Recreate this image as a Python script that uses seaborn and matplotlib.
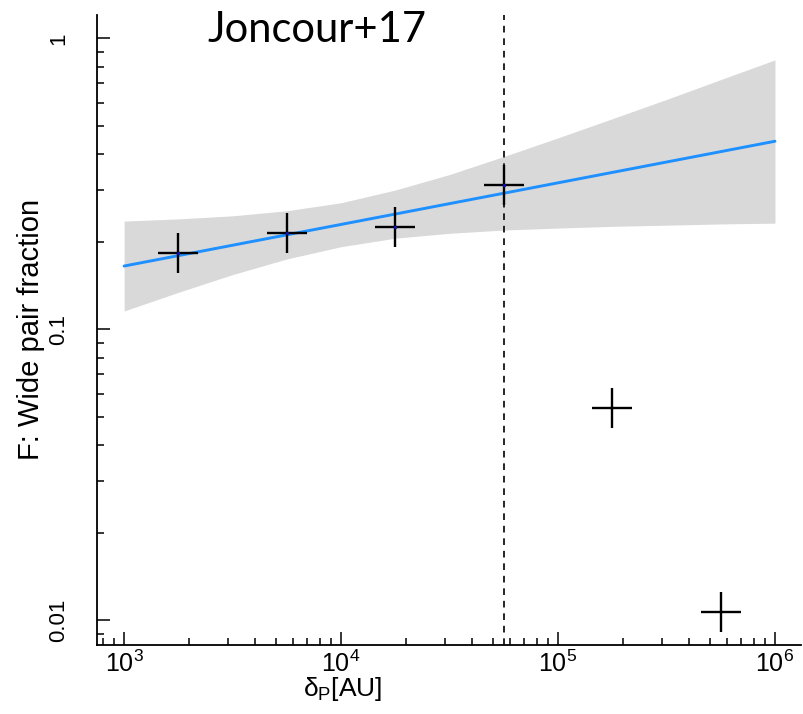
import numpy as np
import pandas as pd
import seaborn as sns
import matplotlib
matplotlib.use("Agg")
import matplotlib.pyplot as plt
from matplotlib.ticker import LogLocator, NullFormatter

# ---- data ----
sep_au = [1778, 5623, 17783, 56234, 177828, 562341]
wide_frac = [0.183, 0.214, 0.225, 0.313, 0.0537, 0.0107]
fit_points = 4  # first four bins used in the fit

fit_x = [1e3, 1e6]
fit_y = [0.165, 0.443]

band_x = [1000, 1778, 3162, 5623, 10000, 17783, 31623, 56234, 100000,
          177828, 316228, 562341, 1000000]
band_hi = [0.2355, 0.2396, 0.2455, 0.2555, 0.2723, 0.3011, 0.3404, 0.3925,
           0.4550, 0.5293, 0.6166, 0.7216, 0.8433]
band_lo = [0.1156, 0.1340, 0.1542, 0.1745, 0.1923, 0.2057, 0.2138, 0.2194,
           0.2228, 0.2259, 0.2280, 0.2302, 0.2317]

vline_x = 56234
xticks = [1e3, 1e4, 1e5, 1e6]
yticks = [0.01, 0.1, 1]
ytick_labels = ["0.01", "0.1", "1"]
title_text = "Joncour+17"
xlabel_text = "δ$_{\\mathrm{P}}$[AU]"
ylabel_text = "F: Wide pair fraction"

# ---- style ----
sns.set_theme(style="ticks")
plt.rcParams["font.family"] = ["Liberation Sans", "DejaVu Sans"]
plt.rcParams["mathtext.fontset"] = "custom"
plt.rcParams["mathtext.rm"] = "Liberation Sans"
plt.rcParams["mathtext.it"] = "Liberation Sans:italic"
plt.rcParams["mathtext.bf"] = "Liberation Sans:bold"

fig = plt.figure(figsize=(8.04, 7.14), dpi=100)
ax = fig.add_axes([97 / 804, 1 - 645 / 714, 704 / 804, 630.5 / 714])

df = pd.DataFrame({"sep": sep_au, "frac": wide_frac})
fit_df = pd.DataFrame({"x": fit_x, "y": fit_y})

ax.fill_between(band_x, band_lo, band_hi, color="#D9D9D9", lw=0, zorder=1)
sns.lineplot(data=fit_df, x="x", y="y", ax=ax, color="#1E90FF", lw=2.1, zorder=2)
ax.axvline(vline_x, color="black", lw=1.2, ls=(0, (4, 3.5)), zorder=3)
sns.scatterplot(data=df, x="sep", y="frac", ax=ax, marker="+", s=860,
                color="black", linewidth=1.7, zorder=4)
sns.scatterplot(data=df.iloc[:fit_points], x="sep", y="frac", ax=ax,
                marker="o", s=6, color="#1010B0", linewidth=0, zorder=5)

ax.set_xscale("log")
ax.set_yscale("log")
ax.set_xlim(10 ** 2.875, 10 ** 6.12)
ax.set_ylim(10 ** -2.085, 10 ** 0.082)

ax.set_xticks(xticks)
ax.set_yticks(yticks, ytick_labels)
ax.xaxis.set_minor_locator(LogLocator(base=10, subs=np.arange(2, 10), numticks=30))
ax.yaxis.set_minor_locator(LogLocator(base=10, subs=np.arange(2, 10), numticks=30))
ax.xaxis.set_minor_formatter(NullFormatter())
ax.yaxis.set_minor_formatter(NullFormatter())

ax.tick_params(which="major", direction="in", length=9.5, width=1.1,
               color="black", labelcolor="black")
ax.tick_params(which="minor", direction="in", length=5.2, width=1.1, color="black")
ax.tick_params(axis="x", which="major", pad=4, labelsize=18)
ax.tick_params(axis="y", which="major", pad=20, labelrotation=90, labelsize=16)
plt.setp(ax.get_yticklabels(), va="center")

for side in ["top", "right"]:
    ax.spines[side].set_visible(False)
for side in ["left", "bottom"]:
    ax.spines[side].set_linewidth(1.3)
    ax.spines[side].set_color("black")

ax.set_xlabel(xlabel_text, fontsize=19, color="black")
ax.set_ylabel(ylabel_text, fontsize=21, color="black")
ax.xaxis.set_label_coords(0.349, -0.048)
ax.yaxis.set_label_coords(-0.074, 0.5)
ax.grid(False)

fig.text(207 / 804, 1 - 42 / 714, title_text, fontsize=30,
         family=["Lato", "DejaVu Sans"], ha="left", va="baseline", color="black")

fig.savefig("out.png", dpi=100)
